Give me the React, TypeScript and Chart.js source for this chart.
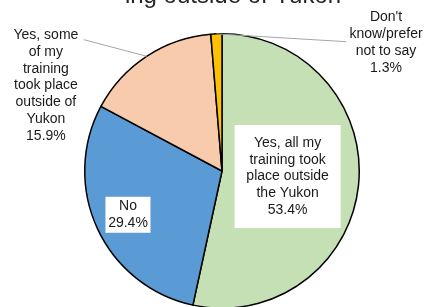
import React, { useEffect, useRef } from "react";
import { Chart, registerables } from "chart.js";

Chart.register(...registerables);

const categories = [
  "Yes, all my training took place outside the Yukon",
  "No",
  "Yes, some of my training took place outside of Yukon",
  "Don't know/prefer not to say",
];
const values = [53.4, 29.4, 15.9, 1.3];
const colors = ["#C5E0B4", "#5B9BD5", "#F8CBAD", "#FFC000"];
const labelLines = [
  ["Yes, all my", "training took", "place outside", "the Yukon"],
  ["No"],
  ["Yes, some", "of my", "training", "took place", "outside of", "Yukon"],
  ["Don't", "know/prefer", "not to say"],
];
const titleText = "ing outside of Yukon";

const FONT = '"Liberation Sans", Arial, sans-serif';

// label placement relative to pie centre, in units of radius
const labelPlacement = [
  { dx: 0.478, dy: 0.04, box: [106, 103] },
  { dx: -0.685, dy: 0.319, box: [45, 36] },
  { dx: -1.283, dy: -0.623, leader: [-1.007, -0.957] },
  { dx: 1.195, dy: -0.935, leader: [0.906, -0.942] },
];

const labelPlugin = {
  id: "pieLabels",
  afterDraw(chart: any) {
    const ctx = chart.ctx;
    const meta = chart.getDatasetMeta(0);
    const a0 = meta.data[0];
    const cx = a0.x;
    const cy = a0.y;
    const r = a0.outerRadius;
    const lh = 16.75;
    ctx.save();
    // title
    ctx.font = `24px ${FONT}`;
    ctx.fillStyle = "#262626";
    ctx.textAlign = "center";
    ctx.textBaseline = "alphabetic";
    ctx.fillText(titleText, 233, 3);

    ctx.font = `14px ${FONT}`;
    ctx.textBaseline = "middle";
    meta.data.forEach((arc: any, i: number) => {
      const p = labelPlacement[i];
      const lines = [...labelLines[i], `${values[i].toFixed(1)}%`];
      const lx = cx + p.dx * r;
      const ly = cy + p.dy * r;
      if (p.leader) {
        const mid = (arc.startAngle + arc.endAngle) / 2;
        ctx.strokeStyle = "#A6A6A6";
        ctx.lineWidth = 1;
        ctx.beginPath();
        ctx.moveTo(cx + Math.cos(mid) * r, cy + Math.sin(mid) * r);
        ctx.lineTo(cx + p.leader[0] * r, cy + p.leader[1] * r);
        ctx.stroke();
      }
      if (p.box) {
        ctx.fillStyle = "#FFFFFF";
        ctx.fillRect(lx - p.box[0] / 2, ly - p.box[1] / 2, p.box[0], p.box[1]);
      }
      ctx.fillStyle = "#1a1a1a";
      const top = ly - ((lines.length - 1) * lh) / 2;
      lines.forEach((t, k) => ctx.fillText(t, lx, top + k * lh));
    });
    ctx.restore();
  },
};

export default function App() {
  const ref = useRef<HTMLCanvasElement>(null);
  useEffect(() => {
    document.body.style.margin = "0";
    const chart = new Chart(ref.current!, {
      type: "pie",
      data: {
        labels: categories,
        datasets: [
          {
            data: values,
            backgroundColor: colors,
            borderColor: "#000000",
            borderWidth: 1.5,
          },
        ],
      },
      options: {
        animation: false,
        responsive: false,
        layout: { padding: { top: 33, bottom: 11, left: 84, right: 70 } },
        plugins: {
          legend: { display: false },
          tooltip: { enabled: false },
          title: { display: false },
        },
      },
      plugins: [labelPlugin],
    });
    return () => chart.destroy();
  }, []);
  return (
    <div
      style={{
        position: "fixed",
        top: 0,
        left: 0,
        width: 430,
        height: 307,
        overflow: "hidden",
        background: "#fff",
      }}
    >
      <canvas ref={ref} width={430} height={320} style={{ width: 430, height: 320, display: "block" }} />
    </div>
  );
}
